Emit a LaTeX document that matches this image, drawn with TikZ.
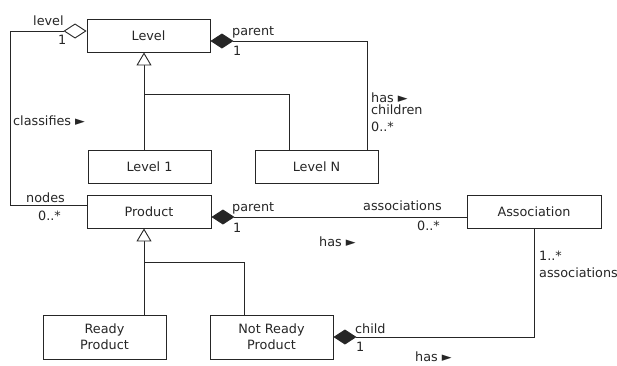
\documentclass[tikz,border=0pt]{standalone}
\usepackage{fontspec}
\setmainfont{DejaVu Sans}
\usetikzlibrary{arrows.meta}
\begin{document}
\begin{tikzpicture}[x=1pt,y=-1pt,
  every node/.style={font=\fontsize{12.8}{16}\selectfont,text=black!85},
  cls/.style={draw=black!85,line width=0.9pt,minimum width=123pt,inner sep=0pt,align=center},
  conn/.style={draw=black!85,line width=0.9pt},
  gen/.style={conn,-{Triangle[open,length=13pt,width=15pt,fill=white]}},
  comp/.style={conn,{Diamond[length=23pt,width=15pt]}-},
  aggr/.style={conn,{Diamond[open,length=23pt,width=15pt,fill=white]}-},
  lbl/.style={anchor=base west,inner sep=0pt}]
\useasboundingbox (0,0) rectangle (617,365);
% classes
\node[cls,minimum height=33pt] (lvl) at (148.5,35.5) {Level};
\node[cls,minimum height=33pt] (lvA) at (149.5,166.5) {Level 1};
\node[cls,minimum height=33pt] (lvN) at (316.5,166.5) {Level N};
\node[cls,minimum height=33pt,minimum width=124pt] (prod) at (149,211.5) {Product};
\node[cls,minimum height=33pt,minimum width=134pt] (assoc) at (534,211.5) {Association};
\node[cls,minimum height=44pt] (ready) at (104.5,337) {Ready\\Product};
\node[cls,minimum height=44pt] (nready) at (271.5,337) {Not Ready\\Product};
% helper coordinates
\coordinate (j1) at (144,94);
\coordinate (j2) at (144,262);
\coordinate (cA) at (10,31);
\coordinate (cB) at (367,41);
\coordinate (cC) at (534,337);
% Level generalization
\draw[gen] (j1 |- lvA.north) -- (j1 |- lvl.south);
\draw[conn] (j1) -| (lvN.north -| 289,0);
% Level parent/children
\draw[comp] ([yshift=-5.5pt]lvl.east) -| (cB |- lvN.north);
% classifies
\draw[aggr] ([yshift=4.5pt]lvl.west) -| (cA |- 0,205) -- ([yshift=6.5pt]prod.west);
% Product generalization
\draw[gen] (j2 |- ready.north) -- (j2 |- prod.south);
\draw[conn] (j2) -| (nready.north -| 244,0);
% Product - Association
\draw[comp] ([yshift=-5.5pt]prod.east) -- ([yshift=-5.5pt]assoc.west);
% Association - Not Ready Product
\draw[comp] (nready.east) -- (cC) -- (assoc.south);
% labels
\node[lbl] (t1) at (33,25) {level};
\node[lbl] (t2) at (58,44) {1};
\node[lbl] (t3) at (232,35) {parent};
\node[lbl] (t4) at (233,55) {1};
\node[lbl] (t5) at (371,102) {has ►};
\node[lbl] (t6) at (371,114) {children};
\node[lbl] (t7) at (371,131) {0..*};
\node[lbl] (t8) at (13,125) {classifies ►};
\node[lbl] (t9) at (26,202) {nodes};
\node[lbl] (t10) at (38,220) {0..*};
\node[lbl] (t11) at (232,211) {parent};
\node[lbl] (t12) at (233,232) {1};
\node[lbl] (t13) at (363,210) {associations};
\node[lbl] (t14) at (417,230) {0..*};
\node[lbl] (t15) at (319,246) {has ►};
\node[lbl] (t16) at (539,260) {1..*};
\node[lbl] (t17) at (539,277) {associations};
\node[lbl] (t18) at (355,333) {child};
\node[lbl] (t19) at (356,351) {1};
\node[lbl] (t20) at (415,361) {has ►};
\end{tikzpicture}
\end{document}
